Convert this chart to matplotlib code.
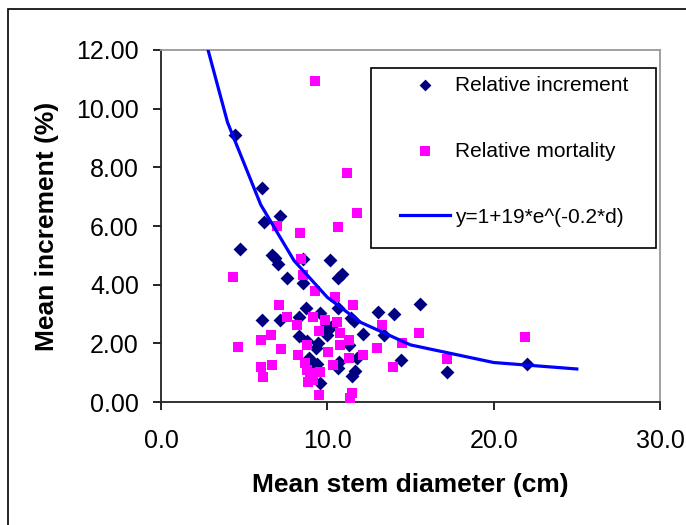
import numpy as np
import matplotlib
matplotlib.use('Agg')
import matplotlib.pyplot as plt
from matplotlib.patches import Rectangle

plt.rcParams['font.family'] = ['Liberation Sans', 'DejaVu Sans']

# relative increment (navy diamonds)
inc_d = [4.42, 6.10, 6.18, 7.15, 4.76, 6.66, 6.86, 7.01, 7.60, 8.52, 8.56, 10.15,
         10.66, 10.87, 6.08, 7.16, 8.28, 8.70, 9.56, 10.66, 11.40, 11.60, 13.05,
         14.00, 15.57, 12.17, 13.40, 8.30, 8.78, 9.81, 9.97, 9.30, 11.33, 8.91,
         9.10, 9.36, 9.58, 10.62, 10.73, 11.67, 11.47, 14.45, 17.22, 21.98, 11.81,
         9.45, 10.20]
inc_v = [9.09, 7.29, 6.15, 6.34, 5.23, 5.00, 4.91, 4.69, 4.22, 4.86, 4.05, 4.84,
         4.22, 4.36, 2.79, 2.79, 2.90, 3.22, 3.05, 3.22, 2.88, 2.77, 3.06,
         2.99, 3.33, 2.31, 2.29, 2.25, 2.08, 2.51, 2.29, 1.85, 1.94, 1.49,
         1.37, 1.29, 0.64, 1.18, 1.37, 1.06, 0.88, 1.44, 1.03, 1.29, 1.49,
         2.00, 2.55]

# relative mortality (magenta squares)
mor_d = [9.26, 11.20, 11.81, 6.97, 8.36, 10.62, 8.42, 8.52, 4.31, 9.24, 10.46,
         11.53, 7.10, 7.56, 8.16, 9.12, 9.86, 10.56, 10.76, 9.52, 13.31, 15.54,
         21.90, 14.46, 11.32, 10.76, 8.76, 6.60, 6.01, 4.65, 7.22, 10.06, 8.26,
         12.13, 12.97, 11.32, 17.17, 6.69, 6.01, 6.11, 8.66, 8.76, 8.86, 9.16,
         9.56, 10.32, 13.93, 9.50, 11.47, 11.36, 8.97]
mor_v = [10.94, 7.79, 6.45, 6.01, 5.75, 5.95, 4.88, 4.33, 4.27, 3.78, 3.59,
         3.31, 3.31, 2.89, 2.62, 2.91, 2.80, 2.72, 2.34, 2.43, 2.62, 2.34,
         2.22, 2.01, 2.11, 1.94, 1.94, 2.28, 2.11, 1.89, 1.81, 1.71, 1.60,
         1.60, 1.83, 1.49, 1.47, 1.26, 1.20, 0.86, 1.32, 1.09, 0.69, 0.75,
         1.03, 1.26, 1.20, 0.24, 0.30, 0.13, 1.00]

# fitted curve y=1+19*e^(-0.2*d), values as plotted
fit_d = [2, 4, 6, 8, 10, 12, 15, 20, 25]
fit_v = [13.74, 9.53, 6.72, 4.82, 3.57, 2.72, 1.95, 1.35, 1.13]

xticks = [0, 10, 20, 30]
yticks = [0, 2, 4, 6, 8, 10, 12]

fig = plt.figure(figsize=(6.86, 5.25), dpi=100)
ax = fig.add_axes([0.2347, 0.234, 0.7274, 0.671])

ax.scatter(inc_d, inc_v, marker='D', s=50, color='#000080', linewidths=0,
           label='Relative increment', zorder=3)
ax.scatter(mor_d, mor_v, marker='s', s=62, color='#FF00FF', linewidths=0,
           label='Relative mortality', zorder=3)
ax.plot(fit_d, fit_v, color='#0000FF', lw=2.3, label='y=1+19*e^(-0.2*d)', zorder=4)

ax.set_xlim(0, 30)
ax.set_ylim(0, 12)
ax.set_xticks(xticks)
ax.set_xticklabels(['%.1f' % t for t in xticks])
ax.set_yticks(yticks)
ax.set_yticklabels(['%.2f' % t for t in yticks])
ax.tick_params(axis='x', direction='out', length=6, width=1.2, pad=13, labelsize=18)
ax.tick_params(axis='y', direction='out', length=6, width=1.2, pad=10, labelsize=18)

for s in ['left', 'bottom']:
    ax.spines[s].set_color('#222222')
    ax.spines[s].set_linewidth(1.3)
for s in ['top', 'right']:
    ax.spines[s].set_color('#999999')
    ax.spines[s].set_linewidth(1.3)

ax.set_xlabel('Mean stem diameter (cm)', fontsize=19, fontweight='bold', labelpad=15)
ax.set_ylabel('Mean increment (%)', fontsize=19, fontweight='bold', labelpad=12)

# legend box drawn separately, entries placed inside it
ax.add_patch(Rectangle((0.421, 0.4375), 0.571, 0.5115, transform=ax.transAxes,
                       fill=False, edgecolor='black', lw=1.2, zorder=5,
                       clip_on=False))
ax.add_patch(Rectangle((0.421, 0.4375), 0.571, 0.5115, transform=ax.transAxes,
                       facecolor='white', edgecolor='none', zorder=2.5,
                       clip_on=False))
leg = ax.legend(loc='upper left', bbox_to_anchor=(0.479, 0.926),
                frameon=False, fontsize=15, labelspacing=2.25, borderpad=0,
                handlelength=2.4, handletextpad=0.25, scatterpoints=1,
                borderaxespad=0, markerscale=0.85)
leg.set_zorder(6)

# outer frame of the chart
fig.patches.append(Rectangle((8 / 686, -0.05), 1.0, (525 - 9) / 525 + 0.05,
                             transform=fig.transFigure, fill=False,
                             edgecolor='black', lw=1.2))

plt.savefig('out.png', dpi=100)
